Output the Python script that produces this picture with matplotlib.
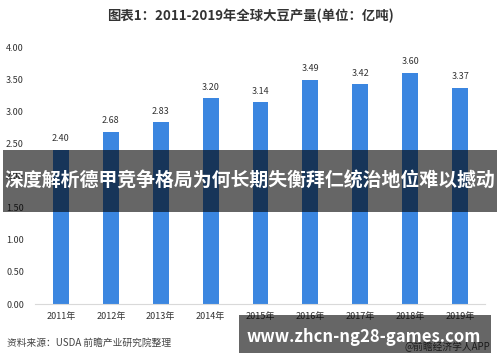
import matplotlib
matplotlib.use("Agg")
import matplotlib.pyplot as plt
from matplotlib.patches import Rectangle

plt.rcParams['font.family'] = ['Noto Sans CJK SC', 'DejaVu Sans']

# data
years = ["2011年", "2012年", "2013年", "2014年", "2015年", "2016年", "2017年", "2018年", "2019年"]
output = [2.40, 2.68, 2.83, 3.20, 3.14, 3.49, 3.42, 3.60, 3.37]
yticks = [0.0, 0.5, 1.0, 1.5, 2.0, 2.5, 3.0, 3.5, 4.0]

fig = plt.figure(figsize=(5, 3.62), dpi=100)
ax = fig.add_axes([0.07, 0.16, 0.9, 0.71])

x = range(len(years))
ax.bar(x, output, width=0.32, color='#3b86e0', zorder=2)
for xi, v in zip(x, output):
    ax.text(xi, v + 0.1, f"{v:.2f}", ha='center', va='bottom', fontsize=6.5, color='#333333')

ax.set_xlim(-0.52, 8.5)
ax.set_ylim(0, 4)
ax.set_xticks(list(x))
ax.set_xticklabels(years, fontsize=6.5, color='#333333')
ax.set_yticks(yticks)
ax.set_yticklabels([f"{t:.2f}" for t in yticks], fontsize=6.5, color='#333333')
ax.tick_params(axis='x', length=0, pad=6)
ax.tick_params(axis='y', length=0, pad=8)
for s in ['top', 'right', 'left']:
    ax.spines[s].set_visible(False)
ax.spines['bottom'].set_color('#d9d9d9')

fig.text(0.5, 0.955, "图表1：2011-2019年全球大豆产量(单位：亿吨)", ha='center', va='center',
         fontsize=9.6, fontweight='bold', color='#333333')
fig.text(0.014, 0.052, "资料来源：USDA 前瞻产业研究院整理", ha='left', va='center',
         fontsize=7, color='#444444')
fig.text(0.98, 0.042, "@前瞻经济学人APP", ha='right', va='center', fontsize=7, color='#444444')

# overlay banners
fig.add_artist(Rectangle((0.006, 0.414), 0.988, 0.171, transform=fig.transFigure,
                         facecolor='black', alpha=0.6, edgecolor='none', zorder=10))
fig.text(0.5, 0.5, "深度解析德甲竞争格局为何长期失衡拜仁统治地位难以撼动", ha='center', va='center',
         fontsize=13.6, fontweight='bold', color='white', zorder=11)
fig.add_artist(Rectangle((0.478, 0.025), 0.504, 0.105, transform=fig.transFigure,
                         facecolor='black', alpha=0.6, edgecolor='none', zorder=10))
fig.text(0.728, 0.07, "www.zhcn-ng28-games.com", ha='center', va='center',
         fontsize=12, fontweight='bold', color='white', zorder=11)

fig.savefig("out.png", dpi=100)
